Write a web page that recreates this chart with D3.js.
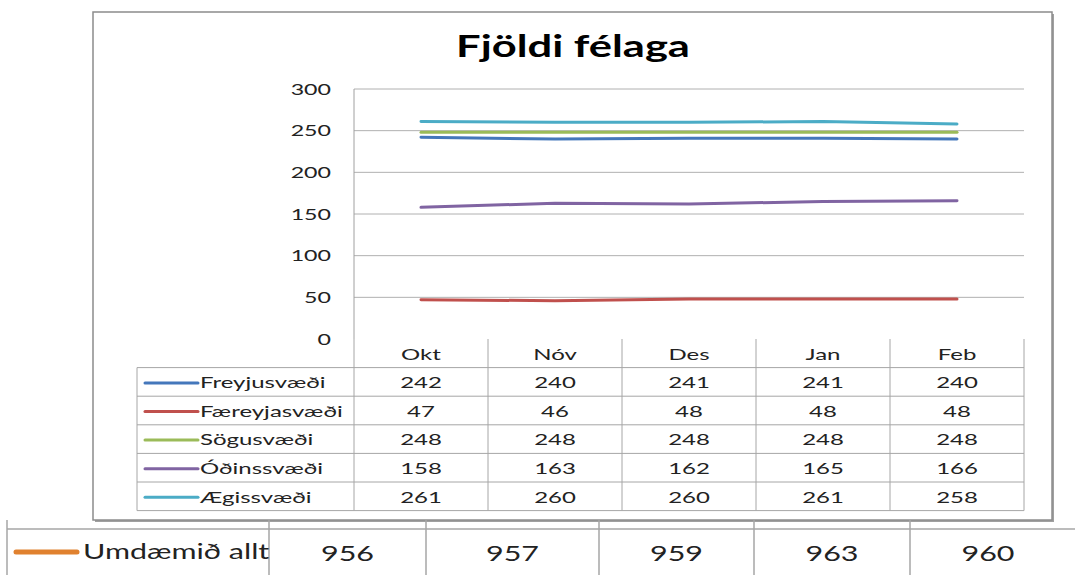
<!DOCTYPE html>
<html>
<head>
<meta charset="utf-8">
<script src="https://cdn.jsdelivr.net/npm/d3@7"></script>
<style>
  body { margin: 0; background: #fff; }
  svg { display: block; font-family: Lato, "Open Sans", sans-serif; }
</style>
</head>
<body>
<div id="chart"></div>
<script>
const months = ['Okt', 'Nóv', 'Des', 'Jan', 'Feb'];
const seriesNames = ['Freyjusvæði', 'Færeyjasvæði', 'Sögusvæði', 'Óðinssvæði', 'Ægissvæði'];
const freyjus = [242, 240, 241, 241, 240];
const faereyjas = [47, 46, 48, 48, 48];
const sogus = [248, 248, 248, 248, 248];
const odinss = [158, 163, 162, 165, 166];
const aegiss = [261, 260, 260, 261, 258];
const seriesColors = ['#4477bb', '#c0504d', '#9bbb59', '#8064a2', '#4bacc6'];
const totalName = 'Umdæmið allt';
const totals = [956, 957, 959, 963, 960];
const totalColor = '#e0812f';
const yTicks = [0, 50, 100, 150, 200, 250, 300];

const series = [freyjus, faereyjas, sogus, odinss, aegiss].map((values, i) => ({
    name: seriesNames[i], values, color: seriesColors[i]
}));

const W = 1075, H = 575;
const svg = d3.select('#chart').append('svg').attr('width', W).attr('height', H);

// the source picture is stretched sideways, so text gets a horizontal scale
function place(sel, px, py, sx = 1.45) {
    sel.attr('transform', (d, i) => {
        const tx = typeof px === 'function' ? px(d, i) : px;
        const ty = typeof py === 'function' ? py(d, i) : py;
        return `translate(${tx},${ty}) scale(${sx},1)`;
    });
    return sel;
}
const TSX = 1.6; // table text

// chart frame
const frame = { x: 93, y: 12, w: 959, h: 508 };
svg.append('rect')
    .attr('x', frame.x + 2).attr('y', frame.y + 2)
    .attr('width', frame.w).attr('height', frame.h)
    .attr('fill', '#a0a0a0');
svg.append('rect')
    .attr('x', frame.x).attr('y', frame.y)
    .attr('width', frame.w).attr('height', frame.h)
    .attr('fill', '#fff').attr('stroke', '#8c8c8c').attr('stroke-width', 1.5);

place(svg.append('text'), 573, 57)
    .attr('text-anchor', 'middle')
    .style('font-size', '30px').style('font-weight', 700)
    .text('Fjöldi félaga');

const plot = { left: 354, right: 1024, top: 89, bottom: 339 };
const x = d3.scaleBand().domain(months).range([plot.left, plot.right]);
const y = d3.scaleLinear().domain([0, 300]).range([plot.bottom, plot.top]);

// gridlines
svg.append('g').selectAll('line').data(yTicks.filter(d => d > 0)).join('line')
    .attr('x1', plot.left).attr('x2', plot.right)
    .attr('y1', d => y(d)).attr('y2', d => y(d))
    .attr('stroke', '#b0b0b0').attr('stroke-width', 1);
svg.append('line')
    .attr('x1', plot.left).attr('x2', plot.left)
    .attr('y1', plot.top).attr('y2', plot.bottom)
    .attr('stroke', '#a0a0a0');

// y axis labels
place(svg.append('g').selectAll('text').data(yTicks).join('text'), 331, d => y(d))
    .attr('dy', '0.35em').attr('text-anchor', 'end')
    .style('font-size', '16px').attr('fill', '#222')
    .text(d => d);

// lines
const line = d3.line()
    .x((d, i) => x(months[i]) + x.bandwidth() / 2)
    .y(d => y(d));
svg.append('g').selectAll('path').data(series).join('path')
    .attr('d', d => line(d.values))
    .attr('fill', 'none')
    .attr('stroke', d => d.color)
    .attr('stroke-width', 3)
    .attr('stroke-linecap', 'round');

// data table
const rowH = 28.6;
const tableLeft = 137;
const headerTop = plot.bottom;
const rowsTop = headerTop + rowH;
const tableBottom = rowsTop + rowH * series.length;
const tbl = svg.append('g').attr('stroke', '#a6a6a6').attr('stroke-width', 1);

tbl.selectAll('line.col').data(months.map(m => x(m)).concat([plot.right])).join('line')
    .attr('class', 'col')
    .attr('x1', d => d).attr('x2', d => d)
    .attr('y1', headerTop).attr('y2', tableBottom);
tbl.append('line')
    .attr('x1', tableLeft).attr('x2', tableLeft)
    .attr('y1', rowsTop).attr('y2', tableBottom);
tbl.selectAll('line.row').data(d3.range(series.length + 1)).join('line')
    .attr('class', 'row')
    .attr('x1', tableLeft).attr('x2', plot.right)
    .attr('y1', i => rowsTop + i * rowH).attr('y2', i => rowsTop + i * rowH);

// header labels
place(svg.append('g').selectAll('text').data(months).join('text'),
        d => x(d) + x.bandwidth() / 2, headerTop + rowH / 2 + 1, TSX)
    .attr('dy', '0.35em').attr('text-anchor', 'middle')
    .style('font-size', '15px').attr('fill', '#222')
    .text(d => d);

const rows = svg.append('g').selectAll('g').data(series).join('g')
    .attr('transform', (d, i) => `translate(0,${rowsTop + i * rowH + rowH / 2 + 1})`);
rows.append('line')
    .attr('x1', 145).attr('x2', 198)
    .attr('stroke', d => d.color).attr('stroke-width', 3)
    .attr('stroke-linecap', 'round');
place(rows.append('text'), 200, 0, TSX)
    .attr('dy', '0.35em')
    .style('font-size', '15px').attr('fill', '#222')
    .text(d => d.name);
place(rows.selectAll('text.val').data(d => d.values).join('text'),
        (d, i) => x(months[i]) + x.bandwidth() / 2, 0, TSX)
    .attr('class', 'val')
    .attr('dy', '0.35em').attr('text-anchor', 'middle')
    .style('font-size', '15px').attr('fill', '#222')
    .text(d => d);

// bottom totals row
const bottomEdges = [7, 269, 426, 599, 754, 910, 1066];
const bt = svg.append('g').attr('stroke', '#a6a6a6').attr('stroke-width', 1.5);
bt.append('line')
    .attr('x1', 7).attr('x2', W)
    .attr('y1', 529).attr('y2', 529);
bt.selectAll('line.v').data(bottomEdges.slice(0, 6)).join('line')
    .attr('class', 'v')
    .attr('x1', d => d).attr('x2', d => d)
    .attr('y1', 520).attr('y2', H);

svg.append('line')
    .attr('x1', 16).attr('x2', 77)
    .attr('y1', 552).attr('y2', 552)
    .attr('stroke', totalColor).attr('stroke-width', 5)
    .attr('stroke-linecap', 'round');
place(svg.append('text'), 83, 552)
    .attr('dy', '0.35em')
    .style('font-size', '21px').attr('fill', '#222')
    .text(totalName);
place(svg.append('g').selectAll('text').data(totals).join('text'),
        (d, i) => (bottomEdges[i + 1] + bottomEdges[i + 2]) / 2, 554)
    .attr('dy', '0.35em').attr('text-anchor', 'middle')
    .style('font-size', '21px').attr('fill', '#222')
    .text(d => d);
</script>
</body>
</html>
